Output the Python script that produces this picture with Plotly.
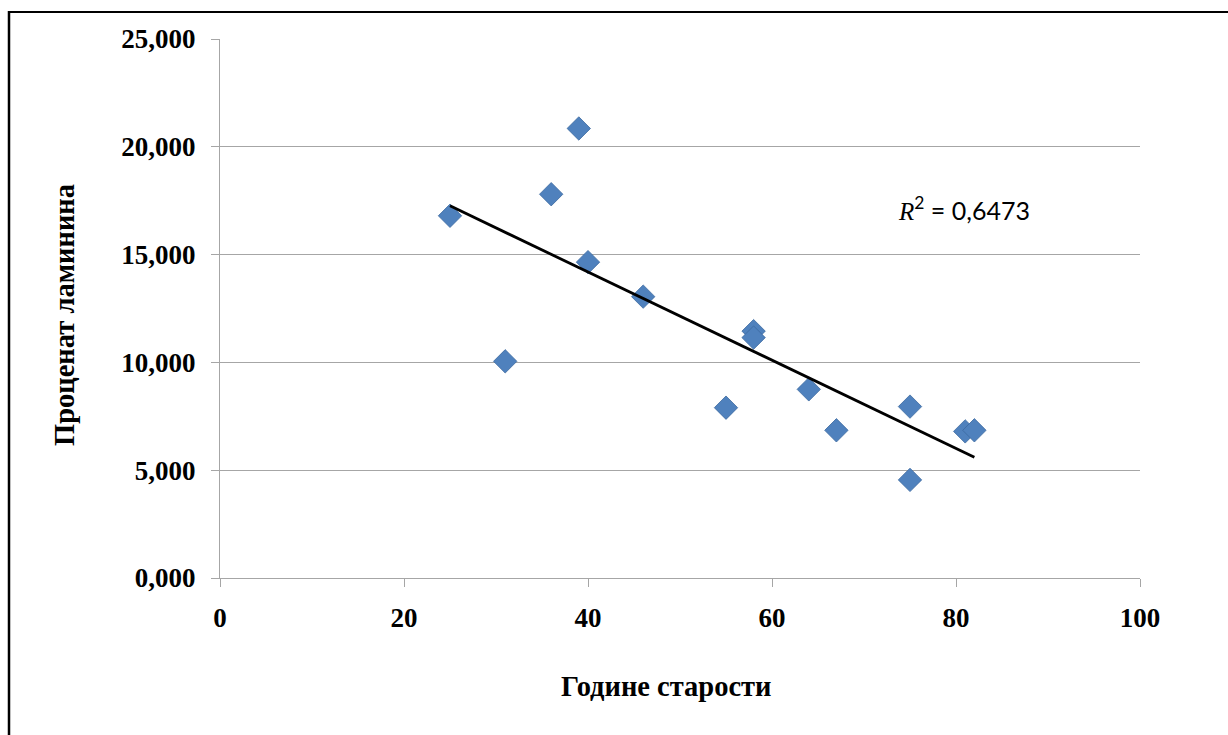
import numpy as np
import plotly.graph_objects as go

# Age (years) and laminin percentage per sample
age = [25, 31, 36, 39, 40, 46, 55, 58, 58, 64, 67, 75, 75, 81, 82]
laminin = [16.80, 10.05, 17.80, 20.85, 14.65, 13.05, 7.90, 11.45, 11.15,
           8.75, 6.85, 7.95, 4.55, 6.80, 6.85]

x_ticks = [0, 20, 40, 60, 80, 100]
y_ticks = [0, 5, 10, 15, 20, 25]
r2_text = "0,6473"

x_title = "Године старости"
y_title = "Проценат ламинина"

# Linear least-squares trend line over the observed age range
slope, intercept = np.polyfit(age, laminin, 1)
trend_x = [min(age), max(age)]
trend_y = [slope * v + intercept for v in trend_x]

W, H = 1228, 735
L, R, T, B = 220, 88, 39, 157
pw, ph = W - L - R, H - T - B

serif = "Liberation Serif"
sans = "Lato"
grid = "#a6a6a6"

fig = go.Figure()
fig.add_trace(go.Scatter(
    x=age, y=laminin, mode="markers",
    marker=dict(symbol="diamond", size=18, color="#4f81bd",
                line=dict(color="#3c6aa0", width=0.8)),
    showlegend=False, hoverinfo="x+y",
))
fig.add_trace(go.Scatter(
    x=trend_x, y=trend_y, mode="lines",
    line=dict(color="black", width=2.8),
    showlegend=False, hoverinfo="skip",
))


def px_x(p):
    return (p - L) / pw


def px_y(p):
    return (H - B - p) / ph


fig.update_layout(
    width=W, height=H,
    margin=dict(l=L, r=R, t=T, b=B),
    paper_bgcolor="white", plot_bgcolor="white",
    separators=",.",
    font=dict(family=serif, color="black"),
    xaxis=dict(
        range=[0, 100], tickvals=x_ticks, ticks="outside", ticklen=8,
        tickcolor=grid, showline=True, linecolor=grid, linewidth=1,
        showgrid=False, zeroline=False,
        tickfont=dict(family=serif, size=27, color="black", weight="bold"),
        ticklabelstandoff=8,
    ),
    yaxis=dict(
        range=[0, 25], tickvals=y_ticks, tickformat=".3f", ticks="outside",
        ticklen=8, tickcolor=grid, showline=True, linecolor=grid, linewidth=1,
        showgrid=True, gridcolor=grid, gridwidth=1, zeroline=False,
        tickfont=dict(family=serif, size=27, color="black", weight="bold"),
        ticklabelstandoff=10,
    ),
    annotations=[
        dict(text=x_title, xref="paper", yref="paper",
             x=px_x(666), y=px_y(686), showarrow=False,
             xanchor="center", yanchor="middle",
             font=dict(family=serif, size=28.5, color="black", weight="bold")),
        dict(text=y_title, xref="paper", yref="paper",
             x=px_x(64), y=px_y(315), showarrow=False, textangle=-90,
             xanchor="center", yanchor="middle",
             font=dict(family=serif, size=28.5, color="black", weight="bold")),
        dict(text="<span style='font-family:Liberation Serif'><i>R</i></span>"
                  "<sup>2</sup> = " + r2_text,
             xref="paper", yref="paper",
             x=px_x(896), y=px_y(208), showarrow=False,
             xanchor="left", yanchor="middle",
             font=dict(family=sans, size=25, color="black")),
    ],
    shapes=[
        dict(type="line", xref="paper", yref="paper",
             x0=px_x(8), x1=px_x(W), y0=px_y(12), y1=px_y(12),
             line=dict(color="black", width=2)),
        dict(type="line", xref="paper", yref="paper",
             x0=px_x(9), x1=px_x(9), y0=px_y(11), y1=px_y(H),
             line=dict(color="black", width=2.5)),
    ],
)

fig.write_html("out.html")
